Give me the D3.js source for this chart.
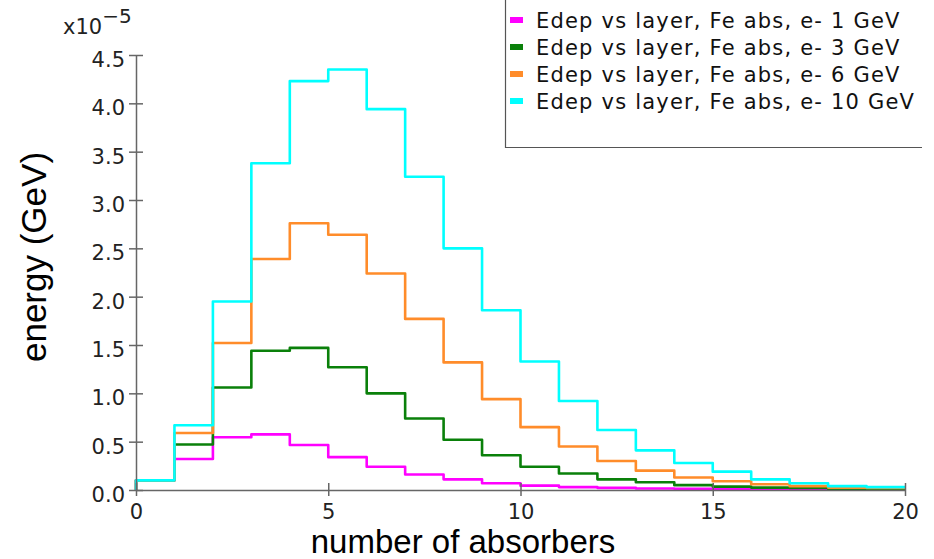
<!DOCTYPE html>
<html>
<head>
<meta charset="utf-8">
<script src="https://cdn.jsdelivr.net/npm/d3@7"></script>
<style>
  html, body { margin: 0; padding: 0; background: #fff; }
  svg { display: block; }
</style>
</head>
<body>
<svg id="chart" width="934" height="559"></svg>
<script>
// ---- data (values in units of 1e-5 GeV), bins 0..19 ----
const binEdges = d3.range(0, 21);
const seriesNames = [
  "Edep vs layer, Fe abs, e- 1 GeV",
  "Edep vs layer, Fe abs, e- 3 GeV",
  "Edep vs layer, Fe abs, e- 6 GeV",
  "Edep vs layer, Fe abs, e- 10 GeV"
];
const seriesColors = ["#ff00ff", "#0a800a", "#ff8c2a", "#00ffff"];
const e1GeV  = [0.10, 0.32, 0.545, 0.575, 0.465, 0.34, 0.24, 0.16, 0.11, 0.07, 0.045, 0.03, 0.022, 0.016, 0.012, 0.009, 0.007, 0.005, 0.004, 0.003];
const e3GeV  = [0.10, 0.47, 1.06, 1.44, 1.47, 1.27, 1.00, 0.74, 0.52, 0.36, 0.24, 0.17, 0.11, 0.08, 0.05, 0.035, 0.025, 0.02, 0.012, 0.008];
const e6GeV  = [0.10, 0.59, 1.52, 2.39, 2.76, 2.64, 2.24, 1.77, 1.32, 0.94, 0.65, 0.45, 0.30, 0.20, 0.13, 0.09, 0.06, 0.04, 0.025, 0.02];
const e10GeV = [0.10, 0.67, 1.95, 3.38, 4.23, 4.35, 3.94, 3.24, 2.50, 1.86, 1.33, 0.92, 0.62, 0.41, 0.28, 0.19, 0.11, 0.07, 0.04, 0.03];
const seriesValues = [e1GeV, e3GeV, e6GeV, e10GeV];
const xTicks = [0, 5, 10, 15, 20];
const yTicks = [0, 0.5, 1.0, 1.5, 2.0, 2.5, 3.0, 3.5, 4.0, 4.5];

// ---- layout ----
const svg = d3.select("#chart");
const x = d3.scaleLinear().domain([0, 20]).range([136, 905]);
const y = d3.scaleLinear().domain([0, 4.5]).range([490, 55]);
const axisColor = "#666";
const tickFont = "DejaVu Sans, sans-serif";

// ---- histogram step lines ----
function stepPoints(vals) {
  const pts = [[x(0), y(0)]];
  vals.forEach((v, i) => {
    pts.push([x(binEdges[i]), y(v)]);
    pts.push([x(binEdges[i + 1]), y(v)]);
  });
  return pts;
}
const line = d3.line();
seriesValues.forEach((vals, i) => {
  svg.append("path")
    .attr("d", line(stepPoints(vals)))
    .attr("fill", "none")
    .attr("stroke", seriesColors[i])
    .attr("stroke-width", 2.6)
    .attr("stroke-linejoin", "round");
});

// ---- axes ----
const xAxis = d3.axisBottom(x).tickValues(xTicks).tickSize(0).tickFormat(d3.format("d"));
const gx = svg.append("g").attr("transform", `translate(0,${y(0)})`).call(xAxis);
gx.select(".domain").attr("stroke", axisColor).attr("stroke-width", 1.5);
gx.selectAll(".tick text").attr("font-family", tickFont).attr("font-size", 21)
  .attr("fill", "#222").attr("y", 14).attr("dy", "0.71em");
gx.selectAll(".tick").append("line")
  .attr("y1", -7).attr("y2", 6).attr("stroke", axisColor).attr("stroke-width", 1.5);

const yAxis = d3.axisLeft(y).tickValues(yTicks).tickSize(0).tickFormat(d3.format(".1f"));
const gy = svg.append("g").attr("transform", `translate(${x(0)},0)`).call(yAxis);
gy.select(".domain").attr("stroke", axisColor).attr("stroke-width", 1.5);
gy.selectAll(".tick text").attr("font-family", tickFont).attr("font-size", 21)
  .attr("fill", "#222").attr("x", -11).attr("y", 4).attr("dy", "0.36em");
gy.selectAll(".tick").append("line")
  .attr("x1", -7).attr("x2", 7).attr("stroke", axisColor).attr("stroke-width", 1.5);

// exponent label
const expo = svg.append("text").attr("x", 63).attr("y", 34)
  .attr("font-family", tickFont).attr("font-size", 21).attr("fill", "#222");
expo.append("tspan").text("x10");
expo.append("tspan").attr("font-size", 20).attr("dy", -11).text("\u22125");

// axis titles
svg.append("text").attr("x", 463).attr("y", 553).attr("text-anchor", "middle")
  .attr("font-family", "Liberation Sans, Arial, sans-serif").attr("font-size", 33)
  .attr("fill", "#000").text("number of absorbers");
svg.append("text").attr("transform", "translate(46,257) rotate(-90)").attr("text-anchor", "middle")
  .attr("font-family", "Liberation Sans, Arial, sans-serif").attr("font-size", 35)
  .attr("fill", "#000").text("energy (GeV)");

// ---- legend ----
const lg = svg.append("g");
lg.append("rect").attr("x", 505).attr("y", -2).attr("width", 417).attr("height", 150)
  .attr("fill", "#fff").attr("stroke", "none");
lg.append("line").attr("x1", 505.5).attr("x2", 505.5).attr("y1", 0).attr("y2", 148)
  .attr("stroke", "#555").attr("stroke-width", 1.2);
lg.append("line").attr("x1", 505).attr("x2", 922).attr("y1", 147.5).attr("y2", 147.5)
  .attr("stroke", "#555").attr("stroke-width", 1.2);
seriesNames.forEach((name, i) => {
  const cy = 20 + i * 27;
  lg.append("rect").attr("x", 510).attr("y", cy - 3).attr("width", 13).attr("height", 6)
    .attr("fill", seriesColors[i]);
  lg.append("text").attr("x", 536).attr("y", cy).attr("dy", "0.36em")
    .attr("font-family", tickFont).attr("font-size", 21).attr("letter-spacing", 1.2)
    .attr("fill", "#111").text(name);
});
</script>
</body>
</html>
